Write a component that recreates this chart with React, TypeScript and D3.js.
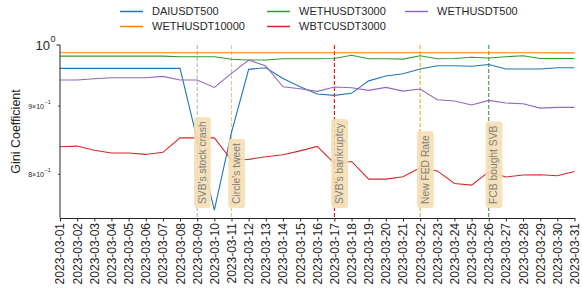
import React, { useEffect, useRef } from "react";
import * as d3 from "d3";

const WIDTH = 582;
const HEIGHT = 296;
const margin = { top: 45, right: 7.5, bottom: 78, left: 60 };
const FONT = "'Liberation Sans', Arial, Helvetica, sans-serif";
const INK = "#262626";

const DATES = [
  "2023-03-01", "2023-03-02", "2023-03-03", "2023-03-04", "2023-03-05", "2023-03-06",
  "2023-03-07", "2023-03-08", "2023-03-09", "2023-03-10", "2023-03-11", "2023-03-12",
  "2023-03-13", "2023-03-14", "2023-03-15", "2023-03-16", "2023-03-17", "2023-03-18",
  "2023-03-19", "2023-03-20", "2023-03-21", "2023-03-22", "2023-03-23", "2023-03-24",
  "2023-03-25", "2023-03-26", "2023-03-27", "2023-03-28", "2023-03-29", "2023-03-30",
  "2023-03-31",
];

const DAIUSDT500 = [
  0.9605, 0.9605, 0.9605, 0.9605, 0.9605, 0.9605, 0.9605, 0.9605, 0.849, 0.752, 0.86,
  0.9589, 0.9616, 0.944, 0.9305, 0.919, 0.9168, 0.92, 0.94, 0.9479, 0.9517, 0.9594,
  0.9649, 0.9649, 0.9639, 0.967, 0.9594, 0.9594, 0.9594, 0.9616, 0.9616,
];
const WETHUSDT10000 = [
  0.9868, 0.9868, 0.9868, 0.9868, 0.9868, 0.9868, 0.9868, 0.9868, 0.9868, 0.9868, 0.9868,
  0.9868, 0.9868, 0.9868, 0.9868, 0.9868, 0.9868, 0.9868, 0.9868, 0.9868, 0.9868, 0.9868,
  0.9868, 0.9868, 0.9868, 0.9868, 0.9868, 0.9866, 0.9866, 0.9865, 0.9865,
];
const WETHUSDT3000 = [
  0.981, 0.981, 0.981, 0.981, 0.981, 0.981, 0.981, 0.98, 0.98, 0.98, 0.9756,
  0.9744, 0.9744, 0.9766, 0.9766, 0.9766, 0.977, 0.9824, 0.9766, 0.9766, 0.976, 0.9817,
  0.9766, 0.977, 0.979, 0.9778, 0.98, 0.9817, 0.977, 0.977, 0.977,
];
const WBTCUSDT3000 = [
  0.839, 0.84, 0.834, 0.83, 0.83, 0.828, 0.831, 0.852, 0.852, 0.852, 0.82,
  0.821, 0.8246, 0.8275, 0.8331, 0.8395, 0.8152, 0.818, 0.7935, 0.7935, 0.7967, 0.8091,
  0.8048, 0.7876, 0.7853, 0.8034, 0.7963, 0.7991, 0.7995, 0.7981, 0.804,
];
const WETHUSDT500 = [
  0.9413, 0.9413, 0.9435, 0.9451, 0.9451, 0.9451, 0.9473, 0.9413, 0.9413, 0.9295, 0.9522,
  0.9744, 0.9644, 0.9305, 0.9273, 0.9231, 0.93, 0.929, 0.9247, 0.9295, 0.9236, 0.9268,
  0.91, 0.9079, 0.9016, 0.9089, 0.9047, 0.9037, 0.8969, 0.898, 0.898,
];

const SERIES_NAMES = ["DAIUSDT500", "WETHUSDT10000", "WETHUSDT3000", "WBTCUSDT3000", "WETHUSDT500"];
const SERIES_VALUES = [DAIUSDT500, WETHUSDT10000, WETHUSDT3000, WBTCUSDT3000, WETHUSDT500];
const SERIES_COLORS = ["#1f77b4", "#ff7f0e", "#2ca02c", "#d62728", "#9467bd"];

const EVENT_DATES = ["2023-03-09", "2023-03-11", "2023-03-17", "2023-03-22", "2023-03-26"];
const EVENT_LABELS = ["SVB's stock crash", "Circle's tweet", "SVB's bankruptcy", "New FED Rate", "FCB bought SVB"];
const EVENT_COLORS = ["#b5b5b5", "#e3c39d", "#ee1111", "#f0a830", "#3c9a3c"];

const Y_DOMAIN = [0.742, 1.0];
const Y_MAJOR = [1.0];
const Y_MINOR = [0.9, 0.8];

function Chart() {
  const ref = useRef<SVGSVGElement>(null);

  useEffect(() => {
    const svg = d3.select(ref.current);
    svg.selectAll("*").remove();

    const x = d3
      .scalePoint<string>()
      .domain(DATES)
      .range([margin.left, WIDTH - margin.right]);
    const y = d3
      .scaleLog()
      .domain(Y_DOMAIN)
      .range([HEIGHT - margin.bottom, margin.top]);

    const bottom = HEIGHT - margin.bottom;

    // event lines (under the data)
    const events = svg.append("g");
    EVENT_DATES.forEach((d, i) => {
      events
        .append("line")
        .attr("x1", x(d)!)
        .attr("x2", x(d)!)
        .attr("y1", margin.top)
        .attr("y2", bottom)
        .attr("stroke", EVENT_COLORS[i])
        .attr("stroke-width", 1.1)
        .attr("stroke-dasharray", "4,2");
    });

    // series
    const line = d3
      .line<number>()
      .x((_, i) => x(DATES[i])!)
      .y((v) => y(v));
    SERIES_VALUES.forEach((vals, i) => {
      svg
        .append("path")
        .attr("d", line(vals))
        .attr("fill", "none")
        .attr("stroke", SERIES_COLORS[i])
        .attr("stroke-width", 1.1);
    });

    // event labels
    EVENT_DATES.forEach((d, i) => {
      const g = svg.append("g");
      const cx = x(d)! + 5.2;
      const yStart = 204;
      const rect = g.append("rect");
      const t = g
        .append("text")
        .attr("transform", `translate(${cx},${yStart}) rotate(-90)`)
        .attr("dominant-baseline", "central")
        .attr("font-family", FONT)
        .attr("font-size", 10.3)
        .attr("fill", "#808080")
        .text(EVENT_LABELS[i]);
      const len = (t.node() as SVGTextElement).getComputedTextLength();
      rect
        .attr("x", cx - 8.4)
        .attr("y", yStart - len - 4)
        .attr("width", 16.8)
        .attr("height", len + 8)
        .attr("rx", 3)
        .attr("fill", "#f5deb3")
        .attr("fill-opacity", 0.9);
    });

    // x axis
    const xAxis = svg
      .append("g")
      .attr("transform", `translate(0,${bottom})`)
      .call(d3.axisBottom(x).tickSize(3.5).tickPadding(3).tickSizeOuter(0));
    xAxis.select(".domain").attr("stroke", INK).attr("stroke-width", 1);
    xAxis.selectAll(".tick line").attr("stroke", INK);
    xAxis
      .selectAll(".tick text")
      .attr("font-family", FONT)
      .attr("font-size", 12)
      .attr("fill", INK)
      .attr("transform", "rotate(-90)")
      .attr("text-anchor", "end")
      .attr("x", -5)
      .attr("y", 0)
      .attr("dy", "0.33em");

    // y axis (log)
    const yAxis = svg.append("g").attr("transform", `translate(${margin.left},0)`);
    yAxis
      .append("line")
      .attr("y1", margin.top)
      .attr("y2", bottom)
      .attr("stroke", INK);
    Y_MAJOR.forEach((v) => {
      yAxis.append("line").attr("x1", -3.5).attr("x2", 0).attr("y1", y(v)).attr("y2", y(v)).attr("stroke", INK);
      yAxis
        .append("text")
        .attr("x", -10)
        .attr("y", y(v))
        .attr("dy", "0.4em")
        .attr("text-anchor", "end")
        .attr("font-family", FONT)
        .attr("font-size", 13)
        .attr("fill", INK)
        .text("10");
      yAxis
        .append("text")
        .attr("x", -9.5)
        .attr("y", y(v) - 3)
        .attr("font-family", FONT)
        .attr("font-size", 9)
        .attr("fill", INK)
        .text(String(Math.round(Math.log10(v))));
    });
    Y_MINOR.forEach((v) => {
      yAxis.append("line").attr("x1", -2).attr("x2", 0).attr("y1", y(v)).attr("y2", y(v)).attr("stroke", INK).attr("stroke-width", 0.8);
      yAxis
        .append("text")
        .attr("x", -16)
        .attr("y", y(v))
        .attr("dy", "0.35em")
        .attr("text-anchor", "end")
        .attr("font-family", FONT)
        .attr("font-size", 7)
        .attr("fill", INK)
        .text(`${Math.round(v * 10)}\u00d710`);
      yAxis
        .append("text")
        .attr("x", -15.5)
        .attr("y", y(v) - 2)
        .attr("font-family", FONT)
        .attr("font-size", 5.5)
        .attr("fill", INK)
        .text("\u22121");
    });

    svg
      .append("text")
      .attr("transform", `translate(20,${(margin.top + bottom) / 2}) rotate(-90)`)
      .attr("text-anchor", "middle")
      .attr("font-family", FONT)
      .attr("font-size", 12.5)
      .attr("fill", INK)
      .text("Gini Coefficient");

    // legend, 3 columns filled column-wise
    const colX = [120, 267, 405];
    const rowY = [11.5, 26.5];
    SERIES_NAMES.forEach((name, i) => {
      const cx = colX[Math.floor(i / 2)];
      const cy = rowY[i % 2];
      svg
        .append("line")
        .attr("x1", cx)
        .attr("x2", cx + 23)
        .attr("y1", cy)
        .attr("y2", cy)
        .attr("stroke", SERIES_COLORS[i])
        .attr("stroke-width", 1.5);
      svg
        .append("text")
        .attr("x", cx + 32)
        .attr("y", cy)
        .attr("dy", "0.36em")
        .attr("font-family", FONT)
        .attr("font-size", 11)
        .attr("fill", INK)
        .text(name);
    });
  }, []);

  return <svg ref={ref} width={WIDTH} height={HEIGHT} style={{ display: "block" }} />;
}

export default function App() {
  return (
    <div style={{ position: "absolute", left: 0, top: 0, background: "#fff" }}>
      <Chart />
    </div>
  );
}
